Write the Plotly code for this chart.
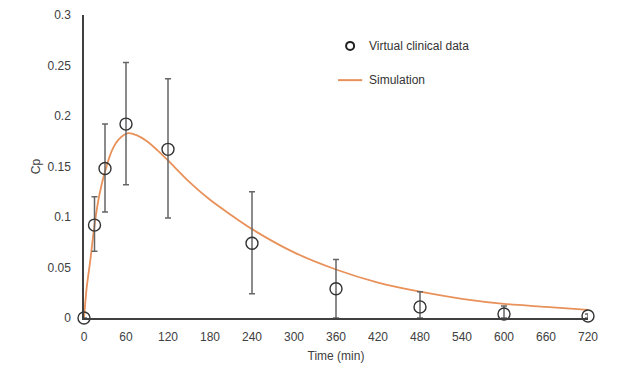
import plotly.graph_objects as go

# Virtual clinical data
obs_t = [0, 15, 30, 60, 120, 240, 360, 480, 600, 720]
obs_cp = [0.0, 0.092, 0.148, 0.192, 0.167, 0.074, 0.029, 0.011, 0.004, 0.002]
err_plus = [0.0, 0.028, 0.044, 0.061, 0.070, 0.051, 0.029, 0.015, 0.008, 0.002]
err_minus = [0.0, 0.026, 0.043, 0.060, 0.068, 0.050, 0.029, 0.011, 0.004, 0.002]

# Simulation
sim_t = [0, 4, 9, 15, 22, 30, 40, 50, 63, 75, 90, 105, 120, 150, 180, 210, 240,
         300, 360, 420, 480, 540, 600, 660, 720]
sim_cp = [0, 0.031, 0.057, 0.092, 0.122, 0.145, 0.166, 0.177, 0.183, 0.181, 0.175,
          0.166, 0.156, 0.135, 0.117, 0.102, 0.088, 0.065, 0.048, 0.035, 0.026,
          0.019, 0.014, 0.011, 0.008]

x_ticks = list(range(0, 721, 60))
y_ticks = [0, 0.05, 0.1, 0.15, 0.2, 0.25, 0.3]
y_labels = ["0", "0.05", "0.1", "0.15", "0.2", "0.25", "0.3"]

FONT = "Liberation Sans, Arial, sans-serif"
ORANGE = "#E8915A"

fig = go.Figure()
fig.add_trace(go.Scatter(
    x=sim_t, y=sim_cp, mode="lines", name="Simulation",
    line=dict(color=ORANGE, width=1.8, shape="spline", smoothing=0.8),
    showlegend=False,
))
fig.add_trace(go.Scatter(
    x=obs_t, y=obs_cp, mode="markers", name="Virtual clinical data",
    marker=dict(symbol="circle-open", size=12, color="#333333", line=dict(width=1.4)),
    error_y=dict(type="data", symmetric=False, array=err_plus, arrayminus=err_minus,
                 color="#666666", thickness=1.5, width=3),
    showlegend=False, cliponaxis=False,
))

fig.update_layout(
    width=640, height=383,
    margin=dict(l=76, r=60, t=7, b=73),
    paper_bgcolor="white", plot_bgcolor="white",
    font=dict(family=FONT, size=12, color="#404040"),
    xaxis=dict(range=[0, 720], tickvals=x_ticks, showgrid=False, zeroline=False,
               showline=True, linecolor="#404040", linewidth=1.5, ticks="",
               automargin=False, ticklabelstandoff=7,
               title=dict(text="Time (min)", font=dict(size=12, color="#404040"), standoff=8)),
    yaxis=dict(range=[0, 0.3], tickvals=y_ticks, ticktext=y_labels, showgrid=False,
               zeroline=False, showline=True, linecolor="#404040", linewidth=1.5, ticks="",
               ticklabelstandoff=9, automargin=False,
               title=dict(text="Cp", font=dict(size=12, color="#404040"), standoff=4)),
    shapes=[
        dict(type="circle", xref="paper", yref="paper", xsizemode="pixel", ysizemode="pixel",
             xanchor=0.528, yanchor=0.898, x0=-4, x1=4, y0=-4, y1=4,
             line=dict(color="#222222", width=2)),
        dict(type="line", xref="paper", yref="paper", x0=0.504, x1=0.552, y0=0.785, y1=0.785,
             line=dict(color=ORANGE, width=2)),
    ],
    annotations=[
        dict(text="Virtual clinical data", x=0.562, y=0.898, xref="paper", yref="paper",
             xanchor="left", yanchor="middle", showarrow=False,
             font=dict(size=12, color="#333333")),
        dict(text="Simulation", x=0.562, y=0.785, xref="paper", yref="paper",
             xanchor="left", yanchor="middle", showarrow=False,
             font=dict(size=12, color="#333333")),
    ],
)

fig.write_html("out.html")
